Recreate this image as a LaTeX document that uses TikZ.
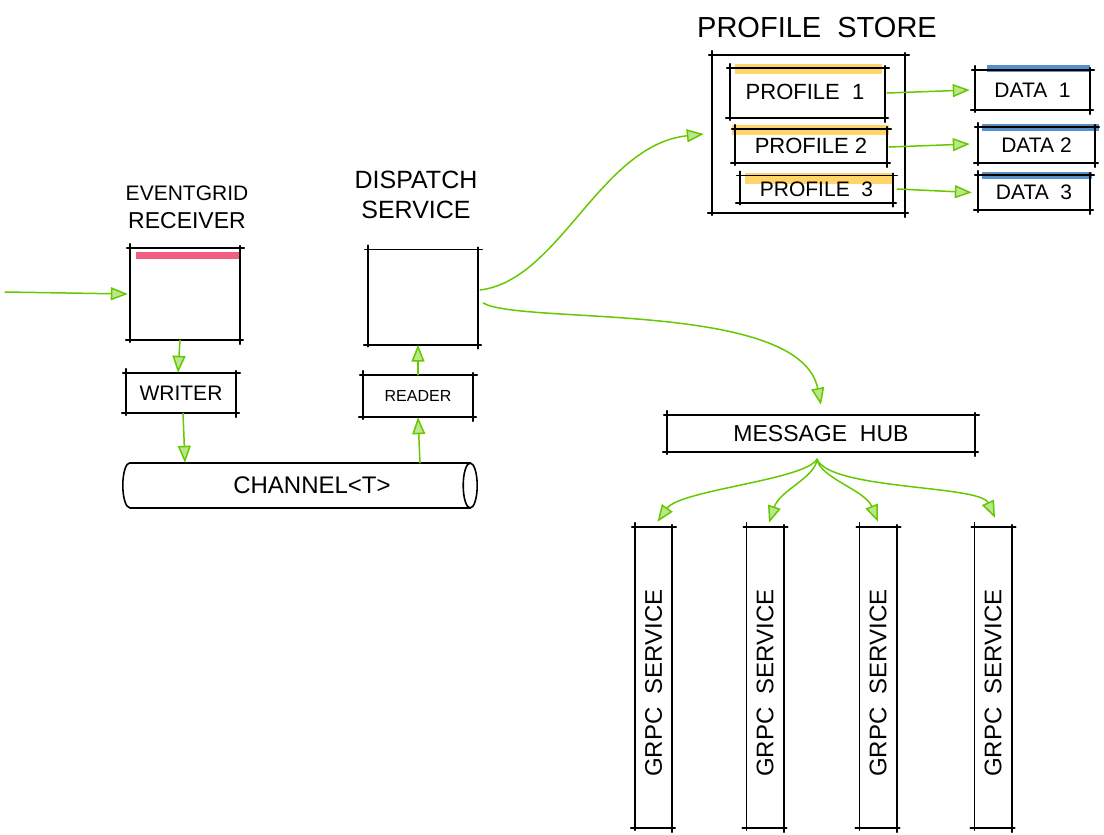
\documentclass[tikz,border=0pt]{standalone}
\usepackage{fontspec}
\setmainfont{Liberation Sans}
\usetikzlibrary{arrows.meta,backgrounds}
\definecolor{sgreen}{RGB}{102,200,0}
\definecolor{spink}{RGB}{240,95,130}
\definecolor{syellow}{RGB}{255,212,105}
\definecolor{sblue}{RGB}{85,145,200}
\newcommand\skbox[1]{%
  \draw[skline] ([xshift=-3pt]#1.north west) -- ([xshift=4pt]#1.north east);
  \draw[skline] ([xshift=-4pt]#1.south west) -- ([xshift=3pt]#1.south east);
  \draw[skline] ([yshift=4pt]#1.north west) -- ([yshift=-2pt]#1.south west);
  \draw[skline] ([yshift=2pt]#1.north east) -- ([yshift=-4pt]#1.south east);
}
\tikzset{
  skline/.style={line width=1.6pt, line cap=round, draw=black},
  boxn/.style={draw=none, inner sep=0pt, anchor=center},
  ttl/.style={font=\fontsize{21}{28}\selectfont, align=center, inner sep=0pt},
  flow/.style={draw=sgreen, line width=1.5pt, line cap=round,
    -{Triangle[length=17pt,width=13pt,fill=sgreen!45]}},
}
\begin{document}
\begin{tikzpicture}[x=1pt,y=-1pt]
\useasboundingbox (0,0) rectangle (1104,835);

% ---- titles
\node[ttl] (recvtitle) at (187,207) {EVENTGRID\\\fontsize{23}{28}\selectfont RECEIVER};
\node[ttl, font=\fontsize{25}{30}\selectfont] (disptitle) at (416,195) {DISPATCH\\SERVICE};
\node[ttl, font=\fontsize{29}{32}\selectfont] (storetitle) at (817,28) {PROFILE\ \ STORE};

% ---- left boxes
\node[boxn, minimum width=110pt, minimum height=92pt] (recv) at (185,294) {};
\node[boxn, minimum width=110pt, minimum height=95pt] (disp) at (423,297) {};
\node[boxn, minimum width=110pt, minimum height=40pt, font=\fontsize{21}{24}\selectfont] (writer) at (181,393) {WRITER};
\node[boxn, minimum width=110pt, minimum height=42pt, font=\fontsize{16}{20}\selectfont] (reader) at (418,396) {READER};
\node[boxn, minimum width=340pt, minimum height=45pt] (chan) at (300,485.5) {};
\node[inner sep=0pt, font=\fontsize{24}{28}\selectfont] (chant) at (312,485) {CHANNEL<T>};

\fill[spink] ([xshift=6pt,yshift=-4pt]recv.north west) rectangle ([yshift=-11pt]recv.north east);
\skbox{recv}
\skbox{disp}
\skbox{writer}
\skbox{reader}
% channel cylinder
\draw[skline] (chan.north west) -- (chan.north east);
\draw[skline] (chan.south west) -- (chan.south east);
\draw[skline] (chan.north west) arc[start angle=90, end angle=270, x radius=7pt, y radius=22.5pt];
\draw[skline] (chan.east) ellipse[x radius=7pt, y radius=22.5pt];

% ---- message hub and grpc services
\node[boxn, minimum width=308pt, minimum height=37pt, font=\fontsize{23}{26}\selectfont] (hub) at (821,433.5) {MESSAGE\ \ HUB};
\skbox{hub}
\foreach \n/\x in {grpc1/653.5, grpc2/765, grpc3/878, grpc4/993}{
  \node[boxn, minimum width=37pt, minimum height=301pt] (\n) at (\x,677.5) {};
  \node[rotate=90, inner sep=0pt, font=\fontsize{24}{26}\selectfont] (\n-t) at (\x,683) {GRPC\ \ SERVICE};
  \skbox{\n}
}

% ---- profile store
\node[boxn, minimum width=193pt, minimum height=158pt] (store) at (808.5,134) {};
\node[boxn, minimum width=155pt, minimum height=50pt] (prof1) at (807.5,93) {};
\node[inner sep=0pt, font=\fontsize{22}{24}\selectfont] (prof1t) at (805,92) {PROFILE\ \ 1};
\node[boxn, minimum width=152pt, minimum height=34pt, font=\fontsize{22}{24}\selectfont] (prof2) at (811,146) {PROFILE 2};
\node[boxn, minimum width=153pt, minimum height=27pt, font=\fontsize{21}{24}\selectfont] (prof3) at (816.5,189) {PROFILE\ \ 3};
\node[boxn, minimum width=115pt, minimum height=40pt, font=\fontsize{21}{24}\selectfont] (data1) at (1032.5,90) {DATA\ \ 1};
\node[boxn, minimum width=117pt, minimum height=36pt, font=\fontsize{21}{24}\selectfont] (data2) at (1036.5,145) {DATA\ 2};
\node[boxn, minimum width=112pt, minimum height=35pt, font=\fontsize{21}{24}\selectfont] (data3) at (1034,192.5) {DATA\ \ 3};

\begin{scope}[on background layer]
\fill[syellow] ([xshift=5pt,yshift=4pt]prof1.north west) rectangle ([xshift=-3pt,yshift=-6pt]prof1.north east);
\fill[syellow] ([xshift=-3pt,yshift=4pt]prof2.north west) rectangle ([xshift=2pt,yshift=-6pt]prof2.north east);
\fill[syellow] ([xshift=5pt,yshift=2pt]prof3.north west) rectangle ([xshift=0pt,yshift=-9pt]prof3.north east);
\fill[sblue] ([xshift=12pt,yshift=5pt]data1.north west) rectangle ([xshift=0pt,yshift=-2pt]data1.north east);
\fill[sblue] ([xshift=4pt,yshift=3pt]data2.north west) rectangle ([xshift=4pt,yshift=-4pt]data2.north east);
\fill[sblue] ([xshift=4pt,yshift=3pt]data3.north west) rectangle ([xshift=2pt,yshift=-4pt]data3.north east);
\end{scope}

\skbox{store}
\skbox{prof1}
\skbox{prof2}
\skbox{prof3}
\skbox{data1}
\skbox{data2}
\skbox{data3}

% ---- connectors
\coordinate (src) at (5,292);
\draw[flow] (src) -- ([xshift=-2pt]recv.west);
\draw[flow] ([xshift=-5pt]recv.south) -- ([xshift=-3pt]writer.north);
\draw[flow] ([xshift=2pt]writer.south) -- ([xshift=-115pt]chan.north);
\draw[flow] ([xshift=120pt]chan.north) -- (reader.south);
\draw[flow] (reader.north) -- ([xshift=-5pt]disp.south);

\draw[flow] ([xshift=2pt,yshift=7pt]disp.east) .. controls (560,280) and (600,145) .. ([xshift=-8pt]store.west);
\draw[flow] ([xshift=5pt,yshift=-6pt]disp.east) .. controls (520,325) and (800,300) .. ([yshift=10pt]hub.north);

\coordinate (fan) at ([xshift=-4pt,yshift=-7pt]hub.south);
\draw[flow] (fan) .. controls (805,480) and (680,490) .. ([xshift=4pt,yshift=5pt]grpc1.north);
\draw[flow] (fan) .. controls (815,478) and (780,490) .. ([xshift=4pt,yshift=4pt]grpc2.north);
\draw[flow] (fan) .. controls (820,478) and (865,490) .. ([xshift=0pt,yshift=5pt]grpc3.north);
\draw[flow] (fan) .. controls (830,490) and (980,485) .. ([xshift=2pt,yshift=9pt]grpc4.north);

\draw[flow] ([xshift=2pt]prof1.east) -- ([xshift=-5pt]data1.west);
\draw[flow] ([xshift=2pt,yshift=-1pt]prof2.east) -- ([xshift=-8pt,yshift=1pt]data2.west);
\draw[flow] ([xshift=4pt]prof3.east) -- ([xshift=-6pt]data3.west);
\end{tikzpicture}
\end{document}
